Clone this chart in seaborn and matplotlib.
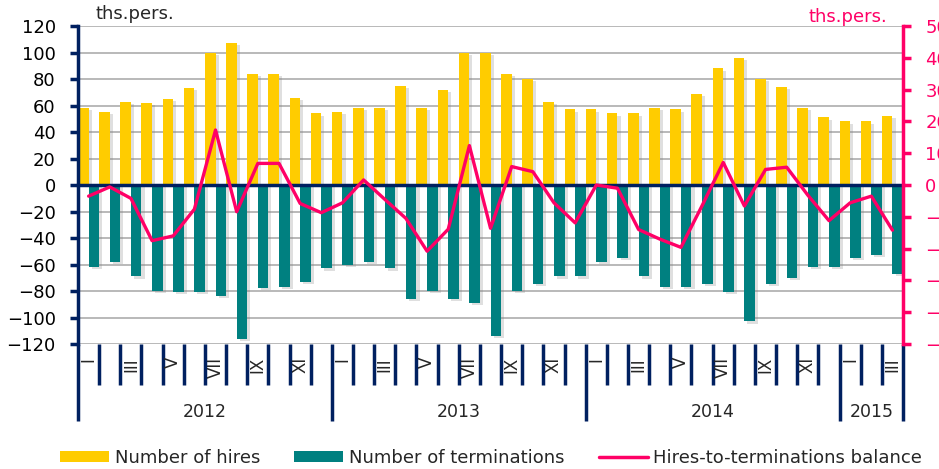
import matplotlib
matplotlib.use("Agg")
import matplotlib.pyplot as plt
import matplotlib.patheffects as pe
from matplotlib.transforms import blended_transform_factory
from matplotlib.lines import Line2D
from matplotlib.patches import Patch
import numpy as np
import pandas as pd
import seaborn as sns

# Monthly labour-market flows, Jan 2012 - Mar 2015 (thousand persons)
years = ["2012", "2013", "2014", "2015"]
months_per_year = [12, 12, 12, 3]
month_labels = (["I", "", "III", "", "V", "", "VII", "", "IX", "", "XI", ""] * 3
                + ["I", "", "III"])

hires = [58, 55, 63, 62, 65, 73, 100, 107, 84, 84, 66, 54,
         55, 58, 58, 75, 58, 72, 100, 100, 84, 80, 63, 57,
         57, 54, 54, 58, 57, 69, 88, 96, 80, 74, 58, 51,
         48, 48, 52]

terminations = [-62, -58, -69, -80, -81, -81, -84, -116, -78, -77, -73, -63,
                -60, -58, -63, -86, -80, -86, -89, -114, -80, -75, -69, -69,
                -58, -55, -69, -77, -77, -75, -81, -103, -75, -70, -62, -62,
                -55, -53, -67]

balance = [-3.5, -0.6, -4.2, -17.5, -16.0, -7.6, 17.3, -8.4, 6.8, 6.8, -5.8, -8.7,
           -5.6, 1.6, -4.5, -10.5, -20.8, -13.9, 12.4, -13.6, 5.8, 4.2, -5.6, -11.9,
           0.0, -1.0, -14.0, -17.0, -19.6, -6.5, 7.1, -6.6, 4.9, 5.6, -3.2, -11.2,
           -5.6, -3.5, -14.2]

series_names = ["Number of hires", "Number of terminations"]
line_name = "Hires-to-terminations balance"

HIRES_C = "#FFCC00"
TERM_C = "#008080"
LINE_C = "#FF0066"
NAVY = "#002060"
GRID_C = "#A6A6A6"

sns.set_style("white")
plt.rcParams["font.family"] = ["DejaVu Sans"]

n = len(hires)
idx = list(range(n))
df = pd.DataFrame({
    "month": idx * 2,
    "value": hires + terminations,
    "series": [series_names[0]] * n + [series_names[1]] * n,
})

fig = plt.figure(figsize=(9.39, 4.69), dpi=100)
ax = fig.add_axes([0.0831, 0.2665, 0.8786, 0.678])

sns.barplot(data=df, x="month", y="value", hue="series",
            palette=[HIRES_C, TERM_C], width=1.0, gap=0, dodge=True,
            saturation=1, linewidth=0, legend=False, ax=ax)

# soft drop shadow on the bars
for bar in ax.patches:
    bar.set_path_effects([
        pe.SimplePatchShadow(offset=(2.2, -1.5), shadow_rgbFace="#808080", alpha=0.25),
        pe.Normal(),
    ])

ax.set_xlim(-0.5, n - 0.5)
ax.set_ylim(-120, 120)
ax.set_yticks(range(-120, 121, 20))
ax.set_xlabel("")
ax.set_ylabel("")
ax.grid(axis="y", color=GRID_C, lw=1.1)
ax.grid(axis="x", visible=False)
ax.set_axisbelow(True)
for s in ["top", "right"]:
    ax.spines[s].set_visible(False)
ax.spines["left"].set_color(NAVY)
ax.spines["left"].set_linewidth(2.5)
ax.spines["bottom"].set_position(("data", 0))
ax.spines["bottom"].set_color(NAVY)
ax.spines["bottom"].set_linewidth(2.5)
ax.set_xticks(np.arange(-0.5, n, 1.0))
ax.tick_params(axis="x", length=4, width=2, color=NAVY, direction="out",
               labelbottom=False)
ax.tick_params(axis="y", length=6, width=2.5, color=NAVY, labelsize=13,
               pad=10, labelcolor="black")

# balance line on the secondary axis
ax2 = ax.twinx()
sns.lineplot(x=idx, y=balance, ax=ax2, color=LINE_C, lw=2.4, legend=False)
ax2.set_ylim(-50, 50)
ax2.set_yticks(range(-50, 51, 10))
ax2.set_ylabel("")
ax2.grid(False)
for s in ["top", "left", "bottom"]:
    ax2.spines[s].set_visible(False)
ax2.spines["right"].set_color(LINE_C)
ax2.spines["right"].set_linewidth(2.5)
ax2.tick_params(axis="y", colors=LINE_C, length=6, width=2.5, labelsize=13, pad=10)
ax.set_xlim(-0.5, n - 0.5)

# two-level category axis: month separators, month and year labels
trans = blended_transform_factory(ax.transData, ax.transAxes)
axes_px = 318.0
month_drop = -41 / axes_px
year_drop = -77 / axes_px
bounds = np.arange(-0.5, n, 1.0)
year_edges = np.concatenate([[-0.5], np.cumsum(months_per_year) - 0.5])
month_only = [b for b in bounds if not np.any(np.isclose(b, year_edges))]
ax.vlines(month_only, 0, month_drop, transform=trans, colors=NAVY, lw=2.5,
          clip_on=False)
ax.vlines(year_edges, 0, year_drop, transform=trans, colors=NAVY, lw=2.5,
          clip_on=False)

for i, lab in enumerate(month_labels):
    if lab:
        ax.text(i, -13 / axes_px, lab, rotation=90, ha="center", va="top",
                fontsize=12, transform=trans)

for k, yr in enumerate(years):
    centre = (year_edges[k] + year_edges[k + 1]) / 2
    ax.text(centre, -67.7 / axes_px, yr, ha="center", va="center",
            fontsize=12.5, transform=trans)

# axis unit captions
fig.text(95 / 939, 1 - 14 / 469, "ths.pers.", ha="left", va="center", fontsize=13)
fig.text(887 / 939, 1 - 17 / 469, "ths.pers.", ha="right", va="center",
         fontsize=13, color=LINE_C)

# legend
handles = [Patch(facecolor=HIRES_C, edgecolor="none"),
           Patch(facecolor=TERM_C, edgecolor="none"),
           Line2D([0], [0], color=LINE_C, lw=2.5)]
labels = series_names + [line_name]
fig.legend(handles, labels, loc="center", bbox_to_anchor=(0.523, 0.024), ncol=3,
           frameon=False, fontsize=13, handlelength=2.7, handleheight=0.55,
           handletextpad=0.33, columnspacing=1.9, borderaxespad=0, borderpad=0)

fig.savefig("out.png", dpi=100, facecolor="white")
